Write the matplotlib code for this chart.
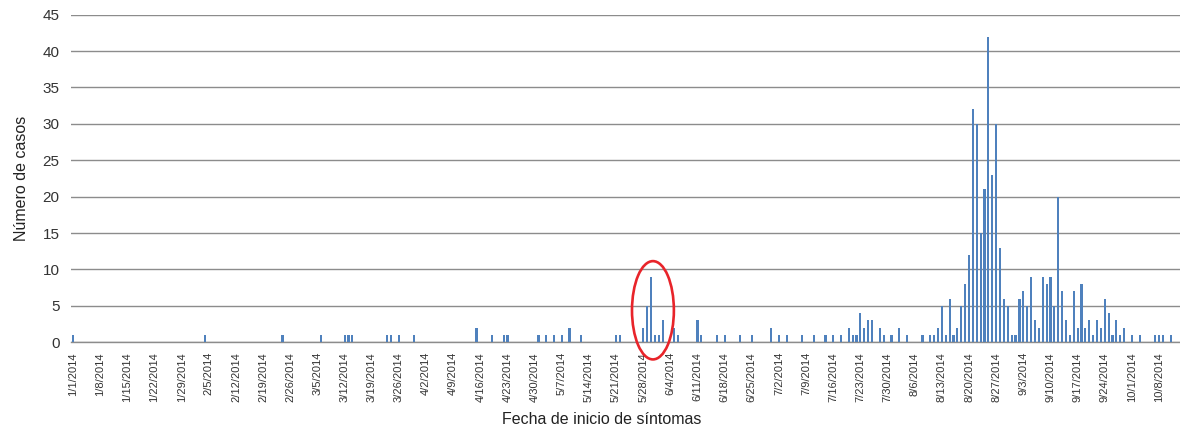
import matplotlib
matplotlib.use("Agg")
import matplotlib.pyplot as plt
from matplotlib.patches import Ellipse
import datetime as dt

plt.rcParams['font.family'] = ['Liberation Sans', 'DejaVu Sans']

# days counted from 1/1/2014 and cases on that day
inicio = dt.date(2014, 1, 1)
dia = [0, 34, 54, 64, 70, 71, 72, 81, 82, 84, 88, 104, 108, 111, 112,
       120, 122, 124, 126, 128, 131, 140, 141,
       147, 148, 149, 150, 151, 152, 155, 156, 161, 162,
       166, 168, 172, 175, 180, 182, 184, 188, 191, 194, 196, 198,
       200, 201, 202, 203, 204, 205, 206, 208, 209, 211, 213, 215,
       219, 221, 222, 223, 224, 225, 226, 227, 228, 229, 230, 231,
       232, 233, 234, 235, 236, 237, 238, 239, 240, 241, 242, 243,
       244, 245, 246, 247, 248, 249, 250, 251, 252, 253, 254, 255,
       256, 257, 258, 259, 260, 261, 262, 263, 264, 265, 266, 267,
       268, 269, 270, 271, 273, 275, 279, 280, 281, 283]
casos = [1, 1, 1, 1, 1, 1, 1, 1, 1, 1, 1, 2, 1, 1, 1,
         1, 1, 1, 1, 2, 1, 1, 1,
         2, 5, 9, 1, 1, 3, 2, 1, 3, 1,
         1, 1, 1, 1, 2, 1, 1, 1, 1, 1, 1, 1,
         2, 1, 1, 4, 2, 3, 3, 2, 1, 1, 2, 1,
         1, 1, 1, 2, 5, 1, 6, 1, 2, 5, 8, 12,
         32, 30, 15, 21, 42, 23, 30, 13, 6, 5, 1, 1,
         6, 7, 5, 9, 3, 2, 9, 8, 9, 5, 20, 7,
         3, 1, 7, 2, 8, 2, 3, 1, 3, 2, 6, 4,
         1, 3, 1, 2, 1, 1, 1, 1, 1, 1]

# weekly tick labels
semanas = list(range(0, 281, 7))
etiquetas = []
for s in semanas:
    f = inicio + dt.timedelta(days=s)
    etiquetas.append(str(f.month) + "/" + str(f.day) + "/" + str(f.year))

fig = plt.figure(figsize=(11.8, 4.37), dpi=100)
ax = fig.add_axes([0.060, 0.2167, 0.94, 0.7497])

ax.bar(dia, casos, width=0.55, color='#4f81bd', zorder=3)

ax.set_xlim(-0.6, 285.4)
ax.set_ylim(0, 45)
ax.set_yticks(range(0, 46, 5))
ax.yaxis.grid(True, color='#8c8c8c', linewidth=1.0, zorder=0)
for sp in ['top', 'right', 'left']:
    ax.spines[sp].set_visible(False)
ax.spines['bottom'].set_color('#8c8c8c')
ax.spines['bottom'].set_linewidth(1.0)

ax.set_xticks(semanas)
ax.set_xticklabels(etiquetas, rotation=90, fontsize=8, color='#333333')
ax.tick_params(axis='x', length=0, pad=7)
ax.tick_params(axis='y', length=0, pad=8, labelsize=11, labelcolor='#333333')

ax.set_ylabel('Número de casos', fontsize=11.5, color='#222222', labelpad=10)
fig.text(602 / 1180, 0.022, 'Fecha de inicio de síntomas', fontsize=11.5,
         color='#222222', ha='center', va='bottom')

# red circle around the end of May
circulo = Ellipse((149.5, 4.4), 10.8, 13.5, fill=False, edgecolor='#e8242a',
                  linewidth=1.9, clip_on=False, zorder=4)
ax.add_patch(circulo)

plt.savefig('out.png', dpi=100)
